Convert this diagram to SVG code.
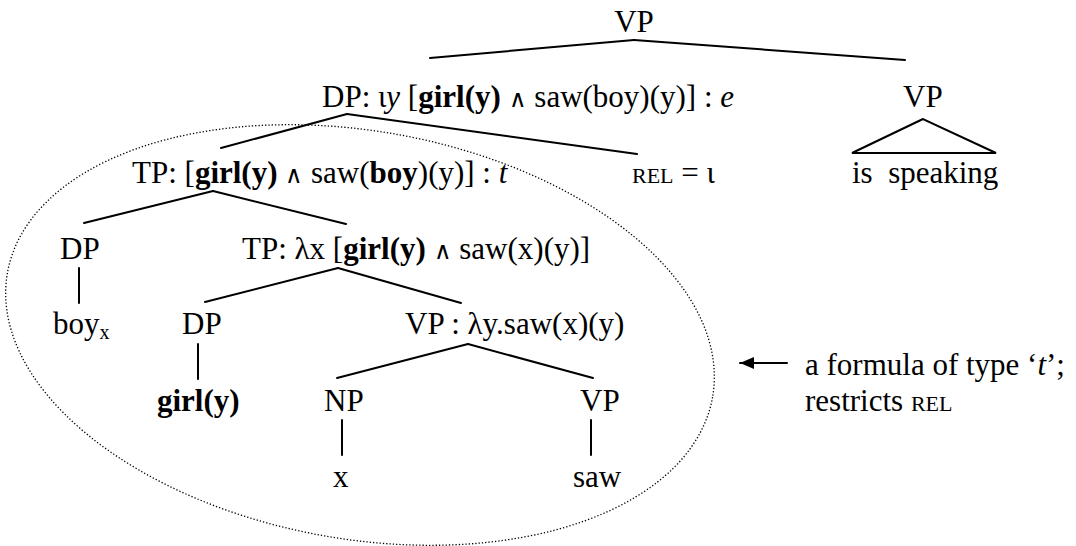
<svg xmlns="http://www.w3.org/2000/svg" width="1076" height="546" viewBox="0 0 1076 546">
<style>
text{font-family:"Liberation Serif","Times New Roman",serif;font-size:31px;fill:#000}
.b{font-weight:bold}
.i{font-style:italic}
.sc{font-size:22px}
.sub{font-size:20px}
.w{font-family:"DejaVu Sans",sans-serif;font-weight:200;font-size:24px}
.e{fill:none;stroke:#000;stroke-width:2;stroke-linecap:round}
.dot{fill:none;stroke:#000;stroke-width:1.3;stroke-dasharray:1.3 2}
</style>
<defs>
<marker id="ah" markerWidth="16" markerHeight="12" refX="14" refY="6" orient="auto" markerUnits="userSpaceOnUse">
<path d="M0,0 L14,6 L0,12 Z" fill="#000"/>
</marker>
</defs>
<g id="connectors">
<line class="e" x1="634" y1="40" x2="430" y2="58"/>
<line class="e" x1="634" y1="40" x2="905" y2="60"/>
<line class="e" x1="347" y1="114" x2="221" y2="148"/>
<line class="e" x1="347" y1="114" x2="637" y2="154"/>
<polygon class="e" points="923,119 852,153 996,153"/>
<line class="e" x1="213" y1="191" x2="84" y2="223"/>
<line class="e" x1="213" y1="191" x2="346" y2="224"/>
<line class="e" x1="79" y1="268" x2="79" y2="303"/>
<line class="e" x1="338" y1="268" x2="205" y2="302"/>
<line class="e" x1="338" y1="268" x2="461" y2="303"/>
<line class="e" x1="198" y1="344" x2="198" y2="379"/>
<line class="e" x1="468" y1="344" x2="337" y2="378"/>
<line class="e" x1="468" y1="344" x2="593" y2="378"/>
<line class="e" x1="342" y1="420" x2="342" y2="455"/>
<line class="e" x1="591" y1="420" x2="591" y2="455"/>
<line class="e" x1="787" y1="363" x2="740" y2="363" marker-end="url(#ah)"/>
</g>
<ellipse id="scope" class="dot" cx="360" cy="335" rx="358" ry="204" transform="rotate(10 360 335)"/>
<g id="n_vp_top"><text x="634" y="32" text-anchor="middle">VP</text></g>
<g id="n_dp"><text x="322" y="107">DP: ι<tspan class="i">y</tspan> [<tspan class="b">girl(y)</tspan> <tspan class="w">∧</tspan> saw(boy)(y)] : <tspan class="i">e</tspan></text></g>
<g id="n_vp_r"><text x="903" y="107">VP</text></g>
<g id="n_tp"><text x="132" y="183">TP: [<tspan class="b">girl(y)</tspan> <tspan class="w">∧</tspan> saw(<tspan class="b">boy</tspan>)(y)] : <tspan class="i">t</tspan></text></g>
<g id="n_rel"><text x="632" y="183"><tspan class="sc">REL</tspan> = ι</text></g>
<g id="n_speak"><text x="852" y="183" xml:space="preserve">is  speaking</text></g>
<g id="n_dp4"><text x="60" y="259">DP</text></g>
<g id="n_tp4"><text x="242" y="259">TP: λx [<tspan class="b">girl(y)</tspan> <tspan class="w">∧</tspan> saw(x)(y)]</text></g>
<g id="n_boy"><text x="53" y="334">boy<tspan class="sub" dy="5">x</tspan></text></g>
<g id="n_dp5"><text x="182" y="334">DP</text></g>
<g id="n_vp5"><text x="405" y="334">VP : λy.saw(x)(y)</text></g>
<g id="n_girl"><text x="157" y="411" class="b">girl(y)</text></g>
<g id="n_np"><text x="324" y="411">NP</text></g>
<g id="n_vp6"><text x="580" y="411">VP</text></g>
<g id="n_x"><text x="333" y="487">x</text></g>
<g id="n_saw"><text x="573" y="487">saw</text></g>
<g id="note">
<text x="805" y="375">a formula of type ‘<tspan class="i">t</tspan>’;</text>
<text x="805" y="411">restricts <tspan class="sc">REL</tspan></text>
</g>
</svg>
